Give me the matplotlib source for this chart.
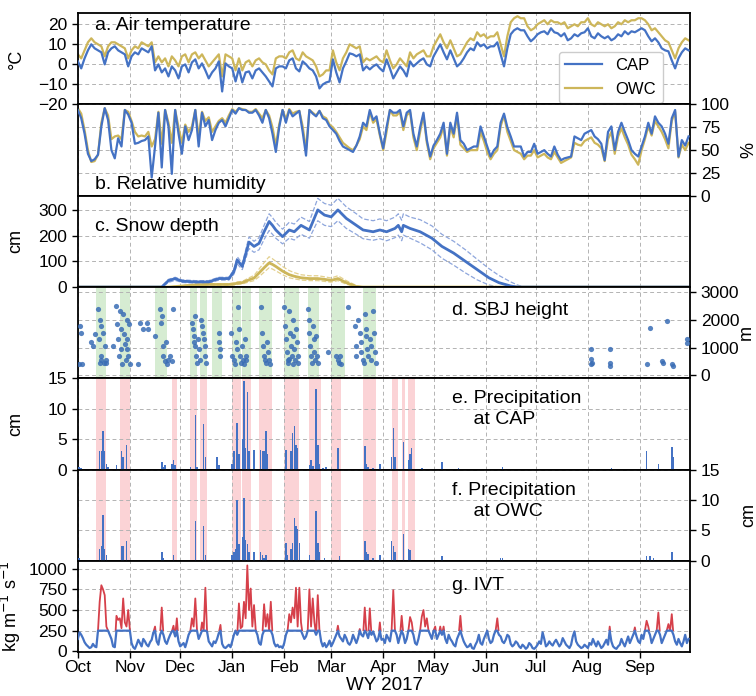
import numpy as np
import matplotlib
matplotlib.use("Agg")
import matplotlib.pyplot as plt
from matplotlib.patches import Rectangle

plt.rcParams['font.family'] = ['Liberation Sans', 'DejaVu Sans']
plt.rcParams['font.size'] = 12.5

#### water year axis (days since 1 Oct 2016)
months = ['Oct', 'Nov', 'Dec', 'Jan', 'Feb', 'Mar', 'Apr', 'May', 'Jun', 'Jul', 'Aug', 'Sep']
month_start = [0, 31, 61, 92, 123, 151, 182, 212, 243, 273, 304, 335]

#### a. air temperature, every 2nd day (deg C)
cap_temp = [1.5, -2, 3, 7, 10, 8, 7, 6, 0, 6,
            8, 9, 7, 6, 5, -1, 4, 6, 5, 8,
            7, 6, 9, -3, 0, -4, -2, -6, -1, -3,
            -7, -1, 0, -4, 1, 2.5, -2, 0.5, -3, -7,
            -4, -2, 1.5, -13.5, 0.5, -1, -2, -8.5, -2, -9,
            -4, -3.5, -7, -3, -2, -4, -6, -8.5, -11, -2,
            -1, -1, -2, 2, 3, -2, -3.5, 1.5, 0, -2,
            -3, -6, -12, -10, -9, -8.5, 2.5, -4, -9, -2,
            1.5, 5.5, 5, 4, 5, -3, -1, -2.5, -1, 0,
            -2, -3.5, 2.5, -2, -7, -4, -1, -3, -6, 1.5,
            -1, 0.5, 2, 3, 0, -1, 4, 7, 10, 6,
            2.5, 7, 3, -1, 0.5, 3, 6, 8, 7, 11,
            9, 10, 8, 9, 9, 11, 5, -1, 8, 15,
            17, 18, 17, 17, 14, 11.5, 13, 15, 16, 16.5,
            15, 18, 16, 15.5, 14, 15.5, 12, 13, 15, 14,
            15.5, 16, 18, 14, 13, 15.5, 14, 13, 14, 12,
            13, 15, 14, 16.5, 15, 16.5, 16, 17, 18, 17,
            14, 11.5, 13, 11, 8, 7, 6.5, 2, -2, 3,
            6, 8, 7]
owc_temp = [5, 3, 7, 11, 13, 11, 10, 9, 4, 9,
            11, 11, 10, 9, 8, 3, 7, 9, 8, 11,
            10, 9, 11, 1, 4, 1, 3, -1, 4, 2,
            -1, 4, 5, 1, 5, 6, 3, 5, 2, -1,
            1, 3, 5, -6, 5, 4, 3, -3, 3, -3,
            1, 2, -1, 2, 3, 1, 0, -3, -5, 3,
            4, 4, 3, 6, 7, 3, 2, 6, 4, 3,
            2, -1, -6, -5, -3, -3, 7, 1, -3, 3,
            6, 10, 9, 8, 9, 1, 3, 2, 3, 4,
            2, 1, 7, 2, -2, 0, 3, 1, -1, 6,
            3, 5, 6, 7, 4, 4, 9, 12, 15, 11,
            8, 12, 8, 4, 5, 8, 11, 13, 12, 16,
            14, 15, 13, 14, 14, 16, 10, 4, 14, 21,
            23, 24, 23, 23, 19, 17, 18, 20, 21, 22,
            20, 22, 21, 21, 20, 21, 18, 19, 20, 19,
            21, 21, 23, 20, 19, 21, 20, 19, 20, 18,
            19, 21, 20, 22, 21, 22, 22, 23, 23, 22,
            20, 17, 18, 16, 14, 12, 11, 7, 3, 8,
            11, 13, 12]

#### b. relative humidity, every 2nd day (%)
cap_rh = [94, 85, 68, 46, 38, 40, 45, 76, 96, 83,
          50, 41, 63, 54, 94, 89, 80, 57, 58, 60,
          61, 65, 20, 54, 91, 31, 94, 76, 24, 94,
          68, 46, 76, 61, 72, 94, 54, 91, 76, 83,
          61, 72, 80, 83, 76, 85, 94, 90, 96, 94,
          94, 91, 91, 94, 88, 80, 94, 85, 68, 48,
          75, 94, 80, 94, 87, 90, 93, 70, 44, 94,
          90, 87, 93, 85, 83, 76, 72, 68, 60, 54,
          52, 50, 48, 55, 65, 80, 76, 94, 83, 87,
          68, 52, 75, 94, 91, 91, 94, 76, 91, 94,
          68, 54, 75, 91, 61, 43, 55, 61, 68, 80,
          46, 80, 68, 91, 61, 57, 50, 52, 54, 54,
          76, 65, 54, 43, 50, 54, 80, 90, 75, 65,
          54, 54, 54, 43, 48, 48, 57, 46, 48, 50,
          46, 43, 54, 45, 39, 41, 42, 43, 65, 63,
          61, 68, 70, 72, 65, 62, 57, 39, 70, 76,
          50, 70, 80, 70, 61, 50, 46, 43, 54, 65,
          80, 68, 87, 80, 76, 68, 57, 85, 94, 43,
          61, 55, 65]
owc_rh = [96, 90, 72, 50, 37, 38, 45, 80, 96, 88,
          62, 65, 66, 62, 94, 92, 82, 70, 65, 66,
          65, 70, 54, 62, 92, 57, 94, 80, 58, 94,
          75, 58, 78, 70, 76, 94, 65, 92, 82, 86,
          70, 76, 82, 85, 80, 88, 95, 92, 96, 95,
          94, 92, 92, 95, 90, 85, 94, 88, 75, 55,
          78, 94, 84, 95, 90, 92, 93, 76, 50, 94,
          91, 88, 93, 87, 85, 78, 75, 70, 64, 58,
          55, 52, 50, 55, 62, 76, 72, 92, 80, 84,
          66, 50, 70, 94, 88, 88, 92, 72, 88, 92,
          64, 50, 70, 88, 58, 40, 52, 58, 64, 76,
          44, 76, 64, 88, 56, 52, 48, 50, 50, 50,
          70, 60, 48, 40, 46, 50, 76, 88, 70, 60,
          50, 48, 46, 40, 44, 44, 50, 42, 44, 46,
          42, 40, 48, 42, 36, 38, 40, 42, 58, 56,
          55, 60, 62, 64, 58, 56, 52, 38, 62, 70,
          46, 65, 74, 64, 56, 45, 40, 34, 50, 62,
          76, 66, 82, 76, 70, 62, 52, 82, 92, 42,
          56, 50, 58]

#### c. snow depth (cm)
snow_days = [0, 50, 54, 58, 62, 70, 78, 84, 90, 93, 95, 98, 102, 105, 108, 111, 114, 116, 118,
             122, 126, 129, 133, 138, 143, 147, 151, 155, 160, 166, 170, 176, 180, 184, 189, 191,
             193, 194, 198, 204, 211, 217, 224, 231, 238, 245, 251, 258, 262, 266, 365]
cap_snow = [0, 0, 25, 33, 23, 20, 20, 33, 33, 60, 105, 80, 175, 158, 170, 215, 255, 240, 222,
            196, 222, 215, 240, 222, 300, 280, 273, 300, 267, 240, 222, 215, 222, 215, 228, 240,
            215, 240, 228, 215, 190, 158, 132, 100, 68, 36, 17, 4, 0, 0, 0]
cap_snow_hi = [0, 0, 30, 38, 28, 25, 25, 38, 38, 68, 118, 92, 195, 178, 192, 240, 285, 270, 252,
               225, 252, 245, 272, 255, 345, 325, 318, 345, 312, 285, 265, 258, 265, 258, 272, 285,
               260, 285, 272, 262, 238, 205, 178, 145, 108, 72, 45, 20, 8, 0, 0]
cap_snow_lo = [0, 0, 18, 26, 18, 15, 15, 27, 27, 50, 90, 68, 150, 135, 145, 185, 220, 205, 190,
               168, 190, 183, 205, 190, 258, 240, 235, 258, 228, 205, 188, 182, 188, 180, 192, 202,
               180, 202, 190, 172, 145, 112, 85, 55, 28, 8, 0, 0, 0, 0, 0]
owc_snow = [0, 0, 0, 2, 4, 8, 10, 10, 10, 12, 15, 17, 28, 35, 55, 75, 94, 88, 80,
            62, 48, 42, 36, 33, 33, 30, 26, 33, 17, 2, 0, 0, 0, 0, 0, 0,
            0, 0, 0, 0, 0, 0, 0, 0, 0, 0, 0, 0, 0, 0, 0]
owc_snow_hi = [0, 0, 0, 3, 6, 11, 13, 13, 13, 16, 20, 22, 36, 45, 70, 95, 118, 110, 100,
               80, 64, 56, 48, 44, 44, 40, 35, 44, 25, 6, 0, 0, 0, 0, 0, 0,
               0, 0, 0, 0, 0, 0, 0, 0, 0, 0, 0, 0, 0, 0, 0]
owc_snow_lo = [0, 0, 0, 1, 2, 5, 7, 7, 7, 8, 10, 12, 20, 25, 40, 58, 75, 70, 63,
               48, 36, 32, 27, 25, 25, 22, 19, 25, 11, 0, 0, 0, 0, 0, 0, 0,
               0, 0, 0, 0, 0, 0, 0, 0, 0, 0, 0, 0, 0, 0, 0]

#### d. SBJ height (day, m)
sbj = [(0.5, 420), (1.5, 1780), (2, 1540), (2.5, 420), (8, 1200), (9, 1060), (10, 1500),
       (12, 2400), (12.5, 1300), (13, 2000), (13.5, 700), (14, 1780), (14, 560), (15, 1540),
       (15.5, 450), (16, 1060), (16.5, 560), (17, 450), (13, 450),
       (21, 1060), (23, 2500), (23.5, 1850), (24, 1300), (24.5, 700), (25, 2330), (25.5, 1660),
       (26, 960), (26.5, 420), (27, 2200), (27.5, 1480), (28, 1140), (28.5, 560), (29, 2000),
       (29.5, 1300), (30, 700), (30.5, 1850), (31, 420), (29, 960),
       (36, 420), (37, 1900), (39, 1660), (41, 1900), (42, 1660),
       (46, 1420), (49, 2400), (49.5, 1900), (50, 2150), (50.5, 1060), (51, 700), (52, 520),
       (53, 420), (54, 560), (55, 700), (56, 520), (57, 2400), (52.5, 1200),
       (68, 1900), (68.5, 1660), (69, 1420), (69.5, 1200), (70, 1060), (70.5, 700), (71, 450),
       (71.5, 1300), (72, 960), (73, 560), (74, 1780), (74.5, 1540), (75, 1300), (75.5, 1060),
       (76, 700), (76.5, 450), (70, 2150), (73.5, 2000),
       (84, 1540), (84, 1200), (84.5, 960), (85, 700),
       (91, 1540), (92, 700), (93, 560), (93.5, 420), (94, 1200), (95, 960), (95.5, 2450),
       (96, 1660), (96.5, 700), (97, 450), (98, 1060), (98.5, 560), (99, 420), (99.5, 1300),
       (100, 700), (100.5, 560),
       (109, 2450), (110, 1540), (110.5, 1060), (111, 700), (111.5, 560), (112, 450),
       (113, 1200), (113.5, 840), (114, 560), (114.5, 420),
       (123, 2450), (123.5, 1780), (124, 1300), (124.5, 840), (125, 560), (125.5, 450),
       (126, 2330), (126.5, 1540), (127, 1060), (127.5, 700), (128, 2000), (128.5, 1420),
       (129, 960), (129.5, 560), (130, 1660), (130.5, 1200), (131, 700), (131.5, 450),
       (126, 600), (128, 400),
       (137, 2400), (137.5, 2000), (138, 1540), (138.5, 1060), (139, 700), (139.5, 450),
       (140, 1780), (140.5, 1300), (141, 840), (141.5, 560), (142, 1420), (142.5, 700), (143, 450),
       (149, 840), (154, 700), (155, 560), (155.5, 450), (156, 700), (157, 420), (161, 2450),
       (165, 1780), (165.5, 1060), (166, 700), (167, 2000), (168, 1540), (168.5, 1200),
       (169, 840), (170, 560), (170.5, 450), (171, 2200), (171.5, 1660), (172, 1420),
       (172.5, 960), (173, 700), (174, 1300), (174.5, 1060), (175, 560), (176, 2330),
       (176.5, 1540), (177, 840), (177.5, 450),
       (306, 930), (306, 570), (306.5, 450), (306, 390), (317, 930), (317, 450), (317, 330),
       (339, 390), (341, 1720), (348, 510), (348.5, 450), (351, 1970), (354, 390), (355, 350),
       (363, 1290), (363, 1180)]
sbj_periods = [(11, 17), (25, 31), (46, 53), (67, 71), (73, 77), (80, 86), (92, 97), (98, 103),
               (108, 116), (123, 132), (137, 144), (151, 159), (170, 178)]

#### e/f. daily precipitation (day, cm)
cap_precip = [(0, 0.5), (1, 0.4), (2, 0.3), (13, 3), (14, 3), (15, 6.3), (16, 3), (17, 1),
              (18, 0.5), (23, 0.8), (26, 3), (27, 2), (29, 4), (50, 1.3), (51, 0.5), (52, 0.8),
              (56, 1), (57, 1.5), (58, 0.8), (67, 0.5), (70, 9), (71, 0.5), (75, 7.5), (76, 2),
              (83, 2), (84, 0.8), (92, 1), (93, 3), (95, 7.7), (96, 2.5), (98, 5), (99, 14.5),
              (100, 3.5), (101, 12.7), (102, 3), (105, 3.3), (109, 3.2), (110, 3), (111, 3),
              (112, 6.3), (113, 2.5), (124, 3.2), (127, 3), (128, 6), (129, 7.2), (130, 4),
              (131, 3.5), (138, 0.7), (139, 1.5), (140, 0.6), (142, 13.3), (143, 4), (144, 1),
              (146, 0.3), (148, 0.5), (155, 3.6), (171, 3.8), (172, 1), (173, 0.5), (176, 0.3),
              (180, 1), (187, 2), (188, 6.8), (189, 2), (194, 4.5), (197, 1.5), (198, 2.5),
              (199, 3.5), (205, 0.2), (217, 1.2), (227, 0.2), (253, 0.5), (318, 0.2), (339, 3),
              (346, 1), (354, 3.7), (355, 2)]
owc_precip = [(0, 0.5), (1, 0.4), (13, 2), (14, 2.5), (15, 7.6), (16, 2), (17, 1), (26, 2.5),
              (27, 2.5), (29, 3.3), (50, 1.4), (51, 0.5), (57, 1), (70, 6.6), (75, 5.7), (76, 1),
              (92, 1), (93, 1.5), (94, 2), (95, 10), (96, 2.7), (98, 4), (99, 10.4), (100, 3.5),
              (101, 2.7), (102, 1.5), (105, 1.5), (109, 1.4), (110, 1), (111, 0.5), (112, 1),
              (124, 3), (125, 1), (127, 2), (128, 3), (129, 7.1), (130, 5.7), (131, 5.2),
              (132, 3), (138, 1), (142, 8.2), (143, 3), (144, 1.4), (147, 0.5), (156, 0.8),
              (171, 3.3), (172, 1.5), (173, 1.2), (176, 0.5), (180, 1), (187, 3.2), (188, 2.5),
              (189, 1.5), (194, 4.4), (197, 2), (198, 1.8), (217, 0.8), (252, 0.5), (253, 0.5),
              (339, 0.8), (341, 0.8), (343, 0.5), (354, 1.5)]
ar_periods = [(11, 17), (25, 31), (56, 59), (67, 71), (73, 77), (92, 97), (98, 103), (108, 116),
              (123, 132), (138, 145), (151, 157), (170, 178), (187, 191), (193, 195), (197, 201)]

#### g. daily IVT (kg m-1 s-1)
ivt = [150, 230, 200, 160, 110, 80, 60, 40, 50, 90, 60, 50, 250, 600, 800, 750, 680, 300, 250, 200,
       150, 60, 50, 430, 380, 400, 280, 640, 350, 300, 500,                          # Oct
       260, 100, 50, 30, 80, 140, 100, 60, 150, 120, 80, 60, 110, 140, 230, 300, 120, 80, 200, 530,
       200, 120, 90, 150, 200, 240, 310, 180, 400, 120,                              # Nov
       60, 80, 100, 50, 120, 200, 240, 400, 300, 640, 260, 150, 200, 350, 250, 770, 240, 120, 90, 60,
       120, 100, 150, 220, 320, 90, 50, 40, 60, 80, 50,                              # Dec
       120, 200, 250, 200, 580, 280, 300, 600, 400, 1040, 500, 760, 300, 560, 260, 200, 100, 80, 200,
       570, 300, 450, 250, 600, 200, 100, 60, 80, 50, 60, 40,                        # Jan
       100, 200, 250, 450, 350, 530, 400, 770, 300, 770, 350, 200, 150, 180, 250, 750, 300, 640, 350,
       200, 680, 250, 120, 60, 100, 50, 80, 130,                                     # Feb
       60, 100, 150, 200, 310, 180, 150, 120, 200, 160, 100, 80, 120, 200, 150, 100, 160, 270, 200,
       180, 530, 220, 160, 520, 200, 240, 180, 120, 150, 350, 140,                   # Mar
       150, 100, 200, 160, 120, 250, 740, 250, 200, 100, 180, 430, 200, 100, 150, 250, 415, 350, 200,
       100, 80, 150, 250, 420, 500, 300, 400, 250, 200, 150,                         # Apr
       250, 300, 150, 200, 300, 200, 300, 150, 100, 200, 150, 120, 80, 60, 150, 200, 430, 180, 120,
       80, 50, 60, 90, 40, 30, 80, 120, 200, 100, 80, 150,                           # May
       200, 250, 150, 100, 120, 200, 250, 400, 200, 180, 120, 100, 140, 200, 180, 90, 60, 80, 120,
       100, 60, 40, 80, 60, 30, 50, 100, 80, 40, 30,                                 # Jun
       50, 80, 120, 90, 230, 150, 60, 80, 120, 90, 70, 110, 140, 100, 60, 90, 160, 120, 80, 60,
       40, 80, 180, 240, 120, 80, 60, 40, 50, 80, 60,                                # Jul
       40, 100, 80, 150, 100, 60, 120, 80, 40, 60, 100, 140, 80, 300, 120, 60, 40, 30, 60, 80,
       150, 100, 60, 120, 180, 100, 150, 200, 290, 180, 120,                         # Aug
       100, 200, 150, 250, 370, 300, 200, 100, 150, 200, 250, 470, 200, 100, 150, 200, 250, 330, 250,
       450, 200, 120, 80, 150, 100, 60, 120, 200, 100, 150]                          # Sep
ivt_threshold = 250

#### colours
blue = '#4472c4'
gold = '#cdb65a'
red = '#d6404a'

fig, axes = plt.subplots(7, 1, figsize=(7.56, 6.96), dpi=100, sharex=True)
fig.subplots_adjust(left=0.103, right=0.913, top=0.981, bottom=0.063, hspace=0)
ax_t, ax_rh, ax_sn, ax_sbj, ax_pc, ax_po, ax_ivt = axes

days2 = np.arange(len(cap_temp)) * 2

# a. air temperature
ax_t.plot(days2, cap_temp, color=blue, lw=1.6, label='CAP', zorder=3)
ax_t.plot(days2, owc_temp, color=gold, lw=1.6, label='OWC', zorder=2)
ax_t.set_ylim(-20, 25.5)
ax_t.set_yticks([-20, -10, 0, 10, 20])
ax_t.set_ylabel('°C')
ax_t.text(0.028, 0.87, 'a. Air temperature', transform=ax_t.transAxes, fontsize=14, va='center')
leg = ax_t.legend(loc='upper right', bbox_to_anchor=(0.955, 0.58), fontsize=12,
                  handlelength=2.2, framealpha=1, edgecolor='#cccccc', borderaxespad=0)

# b. relative humidity
ax_rh.plot(np.arange(len(cap_rh)) * 2, cap_rh, color=blue, lw=1.6, zorder=3)
ax_rh.plot(np.arange(len(owc_rh)) * 2, owc_rh, color=gold, lw=1.6, zorder=2)
ax_rh.set_ylim(0, 100)
ax_rh.set_yticks([0, 25, 50, 75, 100])
ax_rh.set_ylabel('%')
ax_rh.text(0.028, 0.12, 'b. Relative humidity', transform=ax_rh.transAxes, fontsize=14, va='center')

# c. snow depth
ax_sn.plot(snow_days, cap_snow_hi, color='#8ea6dc', lw=0.9, ls='--')
ax_sn.plot(snow_days, cap_snow_lo, color='#8ea6dc', lw=0.9, ls='--')
ax_sn.plot(snow_days, owc_snow_hi, color='#e3d08e', lw=0.9, ls='--')
ax_sn.plot(snow_days, owc_snow_lo, color='#e3d08e', lw=0.9, ls='--')
ax_sn.plot(snow_days, owc_snow, color=gold, lw=2)
ax_sn.plot(snow_days, cap_snow, color=blue, lw=2)
ax_sn.set_ylim(0, 355)
ax_sn.set_yticks([0, 100, 200, 300])
ax_sn.set_ylabel('cm')
ax_sn.text(0.028, 0.66, 'c. Snow depth', transform=ax_sn.transAxes, fontsize=14, va='center')

# d. SBJ height
for s, e in sbj_periods:
    ax_sbj.axvspan(s, e, color='#d6ecd2', lw=0, zorder=0)
ax_sbj.scatter([p[0] for p in sbj], [p[1] for p in sbj], s=14, color='#3a6db5', alpha=0.85,
               lw=0, zorder=3)
ax_sbj.set_ylim(-110, 3180)
ax_sbj.set_yticks([0, 1000, 2000, 3000])
ax_sbj.set_ylabel('m')
ax_sbj.text(0.611, 0.744, 'd. SBJ height', transform=ax_sbj.transAxes, fontsize=14, va='center')

# e/f. precipitation
for ax, pr, name in [(ax_pc, cap_precip, 'e. Precipitation\n    at CAP'),
                     (ax_po, owc_precip, 'f. Precipitation\n    at OWC')]:
    for s, e in ar_periods:
        ax.axvspan(s, e, color='#fbd3d6', lw=0, zorder=0)
    ax.bar([p[0] for p in pr], [p[1] for p in pr], width=0.9, color=blue, lw=0, zorder=3)
    ax.set_ylim(0, 15)
    ax.set_yticks([0, 5, 10, 15])
    ax.set_ylabel('cm')
    ax.text(0.611, 0.66, name, transform=ax.transAxes, fontsize=14, va='center',
            linespacing=1.3)

# g. IVT
days1 = np.arange(len(ivt))
ivt_arr = np.array(ivt, dtype=float)
red_line, = ax_ivt.plot(days1, ivt_arr, color=red, lw=1.3, zorder=2)
red_line.set_clip_path(Rectangle((0, ivt_threshold), 400, 2000, transform=ax_ivt.transData))
ax_ivt.plot(days1, np.minimum(ivt_arr, ivt_threshold), color=blue, lw=1.6, zorder=3)
ax_ivt.set_ylim(-10, 1095)
ax_ivt.set_yticks([0, 250, 500, 750, 1000])
ax_ivt.set_ylabel('kg m$^{-1}$ s$^{-1}$')
ax_ivt.text(0.611, 0.73, 'g. IVT', transform=ax_ivt.transAxes, fontsize=14, va='center')

# shared styling
right_side = [ax_rh, ax_sbj, ax_po]
for ax in axes:
    ax.set_xlim(0, 365)
    ax.set_xticks(month_start)
    ax.grid(True, ls=(0, (4, 3)), color='#b3b3b3', lw=0.7, zorder=1)
    ax.set_axisbelow(True)
    for sp in ax.spines.values():
        sp.set_linewidth(1.3)
    ax.tick_params(axis='y', length=4, width=1, labelsize=12.5)
    if ax in right_side:
        ax.yaxis.tick_right()
        ax.yaxis.set_label_position('right')
        ax.yaxis.set_label_coords(1.082, 0.5)
    else:
        ax.yaxis.set_label_coords(-0.087, 0.5)
    ax.yaxis.label.set_size(13)
    if ax is not ax_ivt:
        ax.tick_params(axis='x', length=0, labelbottom=False)
ax_sbj.yaxis.set_label_coords(1.078, 0.5)
ax_ivt.yaxis.set_label_coords(-0.09, 0.5)
ax_ivt.set_xticklabels(months)
ax_ivt.tick_params(axis='x', length=4, width=1, labelsize=12.5, pad=2)
ax_ivt.set_xlabel('WY 2017', fontsize=13.5, labelpad=1)

fig.savefig('out.png', dpi=100)
